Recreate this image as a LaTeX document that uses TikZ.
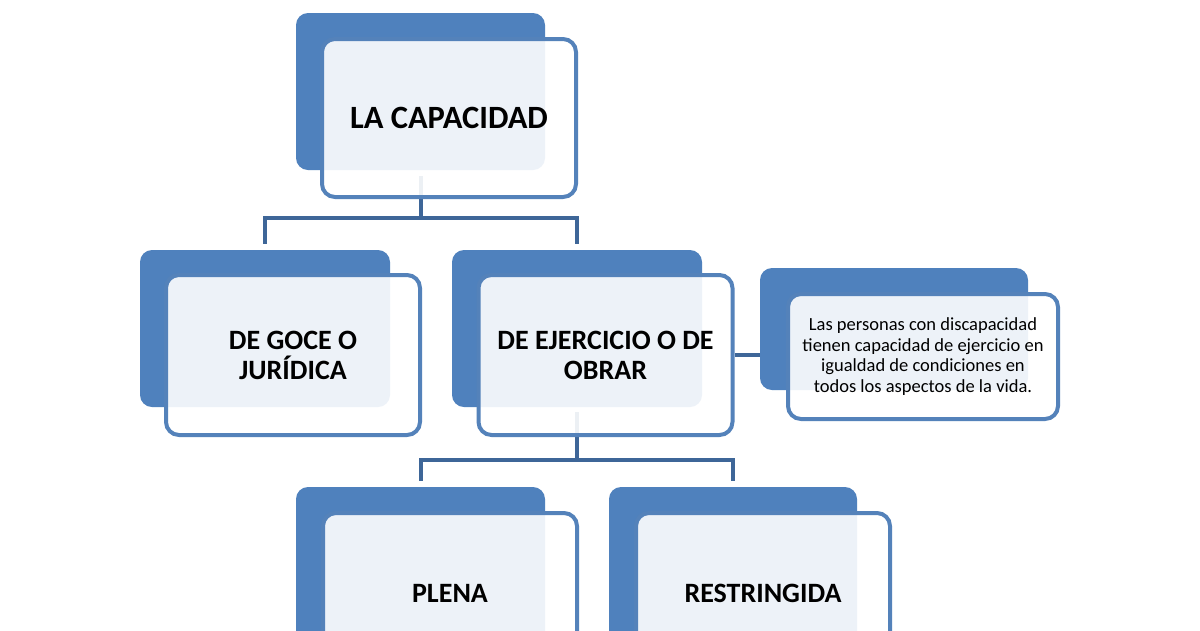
\documentclass[tikz,border=0pt]{standalone}
\usepackage{fontspec}
\setmainfont{Carlito}
\pgfdeclarelayer{bg}
\pgfsetlayers{bg,main}
\definecolor{accentA}{RGB}{79,129,189}
\definecolor{frameA}{RGB}{84,130,186}
\definecolor{connA}{RGB}{62,102,152}
\begin{document}
\begin{tikzpicture}[x=1pt,y=-1pt,
  backbox/.style={draw=none,fill=accentA,rounded corners=12pt,inner sep=0pt},
  frontbox/.style={draw=frameA,line width=4pt,fill=white,fill opacity=0.9,text opacity=1,
    rounded corners=13pt,inner sep=0pt,align=center,font=\bfseries\fontsize{28}{30}\selectfont},
  conn/.style={draw=connA,line width=4pt},
]
\useasboundingbox (0,0) rectangle (1200,630);

% level 1
\node[backbox,minimum width=249pt,minimum height=157pt] (topb) at (420.5,91.5) {};
\node[frontbox,minimum width=254pt,minimum height=158pt,font=\bfseries\fontsize{32.5}{34}\selectfont] (top) at (449,118) {LA CAPACIDAD};

% level 2
\node[backbox,minimum width=250pt,minimum height=157pt] (goceb) at (265,328.5) {};
\node[frontbox,minimum width=254pt,minimum height=160pt] (goce) at (293,355) {DE GOCE O\\JURÍDICA};
\node[backbox,minimum width=250pt,minimum height=157pt] (ejerb) at (577,328.5) {};
\node[frontbox,minimum width=254pt,minimum height=160pt] (ejer) at (605.5,355) {DE EJERCICIO O DE\\OBRAR};

% note
\node[backbox,minimum width=268pt,minimum height=122pt] (noteb) at (894,329) {};
\node[frontbox,minimum width=270pt,minimum height=125pt,font=\fontsize{18.5}{20.7}\selectfont] (note) at (923,356.5)
  {\raisebox{0pt}[0pt][0pt]{}Las personas con discapacidad\\tienen capacidad de ejercicio en\\igualdad de condiciones en\\todos los aspectos de la vida.};

% level 3
\node[backbox,minimum width=249pt,minimum height=157pt] (plenab) at (420.5,565.5) {};
\node[frontbox,minimum width=254pt,minimum height=160pt] (plena) at (450,593) {PLENA};
\node[backbox,minimum width=248pt,minimum height=157pt] (restb) at (733,565.5) {};
\node[frontbox,minimum width=254pt,minimum height=160pt] (rest) at (763,593) {RESTRINGIDA};

\coordinate (j1) at (420.5,218);
\coordinate (j2) at (577,460);

\begin{pgfonlayer}{bg}
\fill[white] (0,0) rectangle (1200,630);
\draw[conn] ([yshift=-6pt]topb.south) -- (j1);
\draw[conn] ([yshift=6pt]goceb.north) |- (j1) -| ([yshift=6pt]ejerb.north);
\draw[conn] ([yshift=-5pt]ejerb.south) -- (j2);
\draw[conn] ([yshift=6pt]plenab.north) |- (j2) -| ([yshift=6pt]restb.north);
\draw[conn] (ejer.east) -- (ejer.east -| noteb.west);
\end{pgfonlayer}
\end{tikzpicture}
\end{document}
